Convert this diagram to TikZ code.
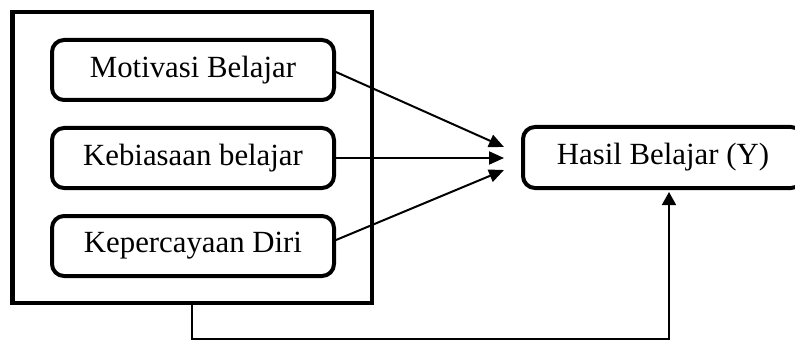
\documentclass[tikz,border=0pt]{standalone}
\usepackage{fontspec}
\setmainfont{Liberation Serif}
\usetikzlibrary{arrows.meta,calc}
\tikzset{
  varbox/.style={draw, line width=4pt, rounded corners=12pt, minimum width=282pt, minimum height=60pt, inner sep=0pt, font=\fontsize{30.8}{36}\selectfont},
  frame/.style={draw, line width=4.5pt, minimum width=359.5pt, minimum height=291pt, inner sep=0pt},
  conn/.style={line width=2pt, -{Triangle[length=15pt,width=13pt]}},
  feed/.style={line width=1.6pt, -{Triangle[length=13pt,width=14pt]}}
}
\begin{document}
\begin{tikzpicture}[x=1pt,y=-1pt]
\useasboundingbox (0,0) rectangle (795,342);
\clip (0,0) rectangle (795,342);
\node[frame] (outer) at (192,157.5) {};
\node[varbox] (m) at (193,70) {Motivasi Belajar};
\node[varbox] (k) at (193,158) {Kebiasaan belajar};
\node[varbox] (p) at (193,246) {Kepercayaan Diri};
\node[varbox, minimum width=280pt, minimum height=61pt] (h) at (663,157.5) {Hasil Belajar (Y)};
\coordinate (t1) at (504,147);
\coordinate (t2) at (504,158);
\coordinate (t3) at (504,170);
\coordinate (b) at (192,339);
\coordinate (c) at (669,339);
\draw[conn] ([yshift=-2pt]m.east) -- (t1);
\draw[conn] (k.east) -- (t2);
\draw[conn] ([yshift=6pt]p.east) -- (t3);
\draw[feed, shorten >=2pt] (outer.south -| b) -- (b) -- (c) -- (c |- h.south);
\end{tikzpicture}
\end{document}
